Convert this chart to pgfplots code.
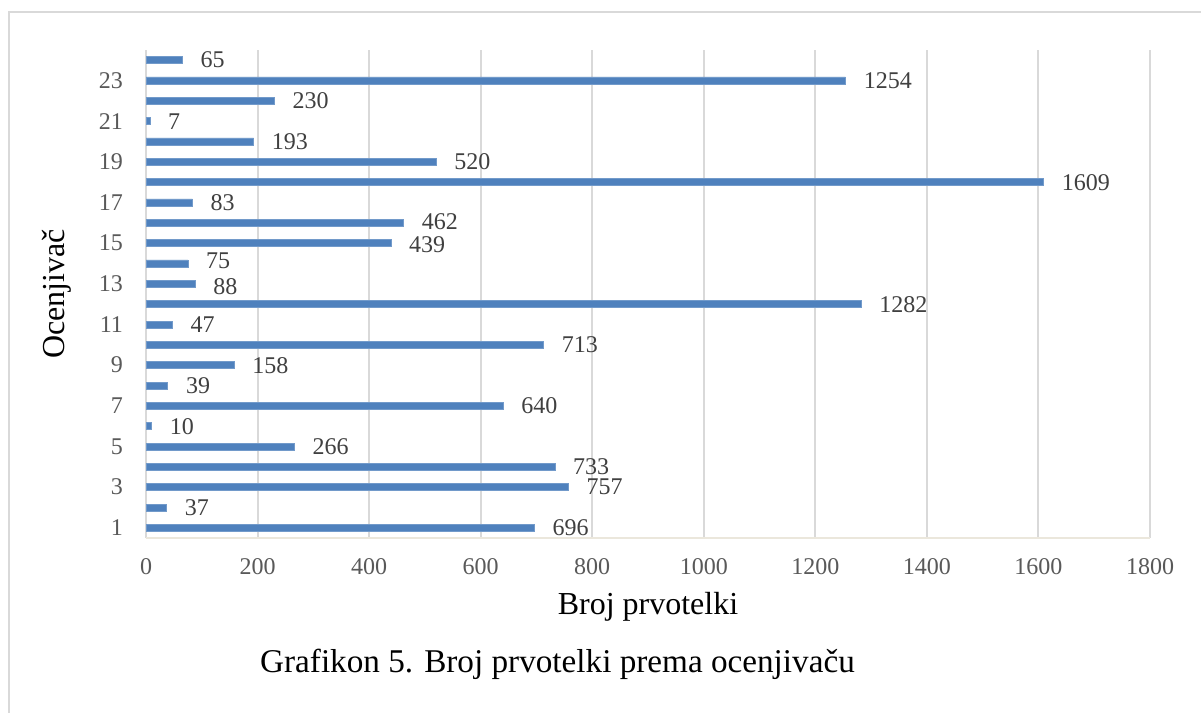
\documentclass[border=0pt]{standalone}
\usepackage{pgfplots}
\usepackage{pgfplotstable}
\pgfplotsset{compat=1.18}
\usepackage{fontspec}
\setmainfont{Liberation Serif}
\definecolor{barblue}{RGB}{79,129,189}
\definecolor{gridgray}{RGB}{217,217,217}
\definecolor{ticktext}{RGB}{89,89,89}
\definecolor{valtext}{RGB}{64,64,64}
\definecolor{axisbase}{RGB}{235,231,220}
\definecolor{framegray}{RGB}{217,217,217}
% count per rater; dy nudges a value label vertically (pt)
\pgfplotstableread{
count rater dy
696 1 0
37 2 0
757 3 0
733 4 0
266 5 0
10 6 0
640 7 0
39 8 0
158 9 0
713 10 0
47 11 0
1282 12 0
88 13 -1.5
75 14 1.5
439 15 -1
462 16 0.5
83 17 0
1609 18 0
520 19 0
193 20 0
7 21 0
230 22 0
1254 23 0
65 24 0
}\ratertable
\begin{document}
\begin{tikzpicture}
\useasboundingbox (0,0) rectangle (600.5pt,356.5pt);
\fill[white] (0,0) rectangle (600.5pt,356.5pt);
% outer frame (left and top edges)
\draw[framegray, line width=1pt] (4.5pt,-2pt) -- (4.5pt,350.5pt) -- (603pt,350.5pt);
\begin{axis}[
  at={(73pt,87.5pt)}, anchor=south west,
  scale only axis, width=502pt, height=244pt,
  xbar, bar width=3.5pt,
  xmin=0, xmax=1800, xtick distance=200,
  ymin=0.5, ymax=24.5, ytick={1,3,...,23},
  /pgf/number format/assume math mode=true,
  /pgf/number format/1000 sep={},
  axis x line*=bottom, axis y line*=left,
  x axis line style={draw=axisbase, line width=1pt},
  y axis line style={draw=none},
  major tick length=0pt,
  xmajorgrids, major grid style={gridgray, line width=1pt},
  tick label style={font=\fontsize{12}{14}\selectfont, text=ticktext},
  xticklabel style={yshift=-6.5pt},
  yticklabel style={xshift=-8pt},
  xlabel={Broj prvotelki},
  ylabel={Ocenjivač},
  label style={font=\fontsize{16}{19}\selectfont, text=black},
  xlabel style={at={(axis description cs:0.5,0)}, anchor=center, yshift=-34.5pt},
  ylabel style={at={([xshift=-44.5pt]axis description cs:0,0.5)}, anchor=center},
  clip=false,
]
\addplot[fill=barblue, draw=barblue!80!white, line width=0.3pt,
  visualization depends on={\thisrow{dy} \as \labeldy},
  nodes near coords,
  every node near coord/.append style={font=\fontsize{12}{14}\selectfont, text=valtext, anchor=west, inner sep=0.5pt, xshift=8.5pt, yshift=\labeldy pt},
] table[x=count, y=rater] {\ratertable};
\end{axis}
\node[font=\fontsize{16.6}{19}\selectfont, anchor=center] at (278.75pt,24.5pt) {Grafikon 5. Broj prvotelki prema ocenjivaču};
\end{tikzpicture}
\end{document}
